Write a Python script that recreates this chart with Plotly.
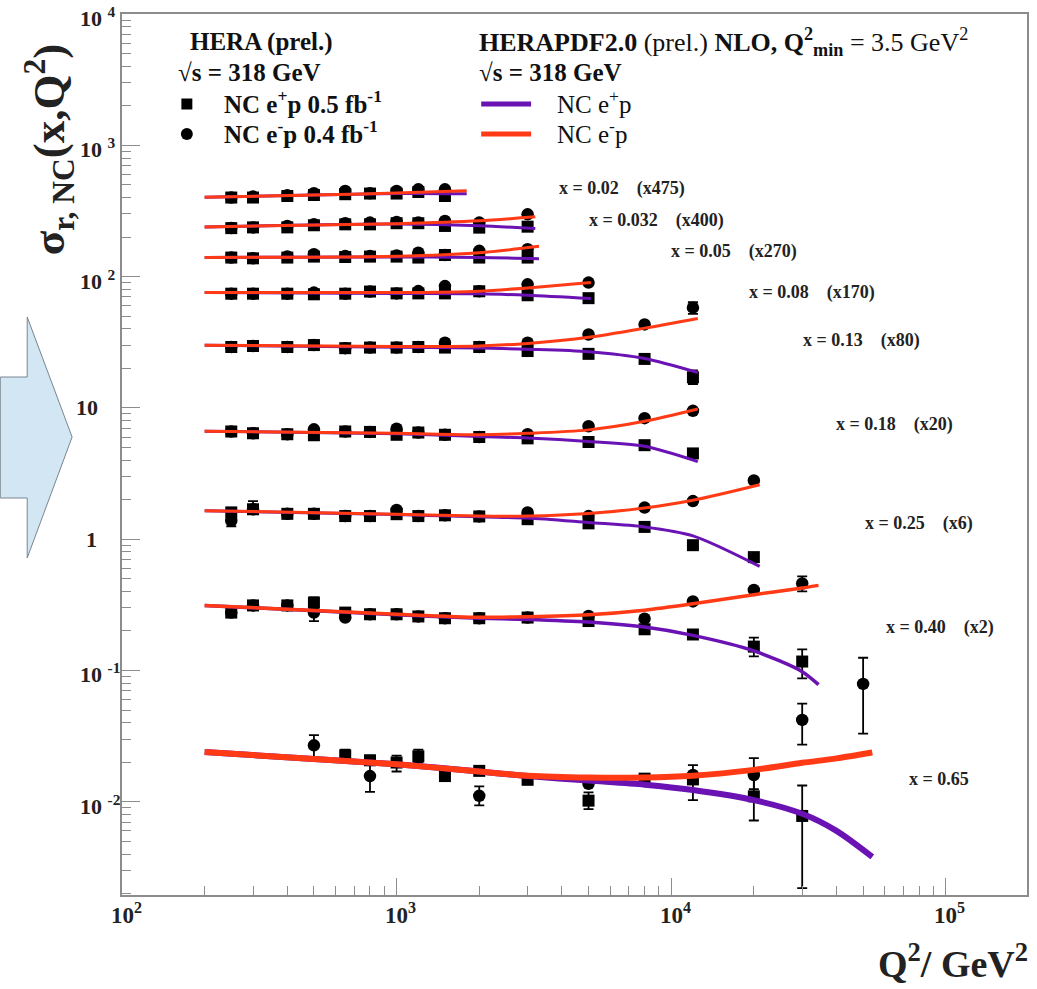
import plotly.graph_objects as go

N = None
# ---------------- data (sigma_r scaled by the factor of each x bin) ----------------
Q2 = [250, 300, 400, 500, 650, 800, 1000, 1200, 1500, 2000, 3000, 5000, 8000, 12000, 20000, 30000, 50000]

bins = ["0.02", "0.032", "0.05", "0.08", "0.13", "0.18", "0.25", "0.40", "0.65"]
scales = ["475", "400", "270", "170", "80", "20", "6", "2", ""]

# e+p (squares) and e-p (circles), aligned with Q2
ep_002 = [400, 400, 411, 418, 424, 429, 429, 441, 411, N, N, N, N, N, N, N, N]
em_002 = [400, 407, 416, 431, 449, 431, 449, 462, 462, N, N, N, N, N, N, N, N]
ep_0032 = [234, 237, 237, 246, 250, 250, 255, 255, 243, 236, 240, N, N, N, N, N, N]
em_0032 = [234, 237, 243, 250, 255, 258, 261, 258, 265, 258, 298, N, N, N, N, N, N]
ep_005 = [139.6, 137.8, 139.6, 142, 141, 142, 142, 139.6, 146, 139.6, 139.6, N, N, N, N, N, N]
em_005 = [139.6, 137.8, 142, 148, 143.6, 143.6, 145, 152, 146, 157, 161.5, N, N, N, N, N, N]
ep_008 = [74.1, 74.1, 74.1, 73.3, 74.1, 76.9, 74.5, 74.5, 74.5, 77.3, 72.1, 68.5, N, N, N, N, N]
em_008 = [74.1, 74.1, 74.1, 75.5, 74.1, 76.9, 74.5, 77.6, 84.7, 77.3, 87.3, 90, N, N, N, N, N]
ep_013 = [29.1, 29.6, 29.1, 30.1, 28.5, 28.8, 28.8, 29.1, 28.8, 29.1, 27.1, 25.8, 23.6, 17.1, N, N, N]
em_013 = [29.1, 29.6, 29.1, 30.1, 28.5, 28.8, 28.8, 29.1, 31.4, 29.1, 31.4, 36.2, 43.2, 58, N, N, N]
ep_018 = [6.61, 6.41, 6.30, 6.19, 6.61, 6.56, 6.24, 6.49, 6.24, 6.0, 5.86, 5.5, 5.2, 4.5, N, N, N]
em_018 = [6.61, 6.41, 6.30, 6.87, 6.61, 6.56, 6.95, 6.49, 6.24, 6.0, 6.30, 7.25, 8.35, 9.5, N, N, N]
ep_025 = [1.60, 1.69, 1.56, 1.56, 1.50, 1.50, 1.55, 1.50, 1.52, 1.49, 1.42, 1.32, 1.24, 0.90, 0.73, N, N]
em_025 = [1.38, 1.69, 1.56, 1.56, 1.50, 1.50, 1.67, 1.50, 1.52, 1.49, 1.60, 1.50, 1.74, 1.95, 2.8, N, N]
ep_040 = [0.276, 0.313, 0.313, 0.329, 0.276, 0.268, 0.268, 0.258, 0.250, 0.250, 0.253, 0.238, 0.206, 0.188, 0.152, 0.117, N]
em_040 = [0.276, 0.313, 0.313, 0.276, 0.253, 0.268, 0.268, 0.258, 0.250, 0.250, 0.253, 0.260, 0.248, 0.336, 0.41, 0.46, N]
ep_065 = [N, N, N, N, 0.0226, 0.0207, 0.0199, 0.0222, 0.0157, 0.0172, 0.0147, 0.0102, 0.0150, 0.0148, 0.0110, 0.0078, N]
em_065 = [N, N, N, 0.0269, N, 0.0157, N, N, N, 0.0111, N, 0.0137, N, 0.0160, 0.0160, 0.0420, 0.0790]

# error bar ends (low / high), aligned with Q2
ep_013_lo = [N] * 13 + [15.2, N, N, N]
ep_013_hi = [N] * 13 + [19.3, N, N, N]
em_013_lo = [N] * 13 + [52, N, N, N]
em_013_hi = [N] * 13 + [64, N, N, N]
ep_025_lo = [N, 1.60, N, N, N, N, N, N, N, N, N, N, N, N, N, N, N]
ep_025_hi = [N, 1.95, N, N, N, N, N, N, N, N, N, N, N, N, N, N, N]
em_025_lo = [1.25, N, N, N, N, N, N, N, N, N, N, N, N, N, N, N, N]
em_025_hi = [1.50, N, N, N, N, N, N, N, N, N, N, N, N, N, N, N, N]
ep_040_lo = [N, N, N, 0.238, N, N, N, N, N, N, N, N, N, N, 0.128, 0.087, N]
ep_040_hi = [N, N, N, 0.360, N, N, N, N, N, N, N, N, N, N, 0.178, 0.145, N]
em_040_lo = [N] * 15 + [0.40, N]
em_040_hi = [N] * 15 + [0.52, N]
ep_065_lo = [N, N, N, N, 0.0201, 0.0190, 0.0170, 0.0200, N, N, N, 0.0088, N, 0.0103, 0.0072, 0.0022, N]
ep_065_hi = [N, N, N, N, 0.0250, 0.0225, 0.0225, 0.0250, N, N, N, 0.0118, N, 0.0190, 0.0160, 0.0133, N]
em_065_lo = [N, N, N, 0.0211, N, 0.0119, N, N, N, 0.0094, N, N, N, N, 0.0125, 0.0272, 0.0330]
em_065_hi = [N, N, N, 0.0322, N, 0.0203, N, N, N, 0.0131, N, N, N, N, 0.0215, 0.0560, 0.1250]

# HERAPDF2.0 NLO curves: Q2 nodes, e-p (red) and e+p (purple)
cq_002 = [200, 500, 1000, 1800]
cr_002 = [402, 418, 433, 450]
cp_002 = [402, 418, 430, 428]
cq_0032 = [200, 1000, 2000, 3200]
cr_0032 = [239, 253, 266, 285]
cp_0032 = [239, 251, 244, 232]
cq_005 = [200, 1000, 2000, 3300]
cr_005 = [140, 143, 152, 170]
cp_005 = [140, 141, 140, 137]
cq_008 = [200, 1000, 2000, 3000, 5100]
cr_008 = [75.5, 75.5, 77.5, 82, 90]
cp_008 = [75.5, 74.5, 74, 72, 68]
cq_013 = [200, 1000, 2000, 3000, 5000, 8000, 12500]
cr_013 = [30, 29.3, 29.6, 31, 34.5, 40.5, 48]
cp_013 = [30, 29, 28.6, 28, 26.8, 23.8, 18.6]
cq_018 = [200, 1000, 2000, 3000, 5000, 8000, 12500]
cr_018 = [6.65, 6.4, 6.25, 6.4, 6.8, 7.9, 9.8]
cp_018 = [6.65, 6.35, 6.05, 5.9, 5.55, 5.1, 3.9]
cq_025 = [200, 1000, 2000, 3000, 5000, 8000, 12000, 21000]
cr_025 = [1.65, 1.55, 1.50, 1.50, 1.57, 1.73, 1.98, 2.6]
cp_025 = [1.65, 1.54, 1.48, 1.45, 1.34, 1.24, 1.06, 0.62]
cq_040 = [200, 1000, 2000, 3000, 5000, 8000, 12000, 20000, 30000, 34400]
cr_040 = [0.313, 0.268, 0.254, 0.257, 0.266, 0.288, 0.322, 0.378, 0.425, 0.445]
cp_040 = [0.313, 0.266, 0.250, 0.245, 0.234, 0.214, 0.185, 0.141, 0.098, 0.078]
cq_065 = [200, 500, 1000, 2000, 3000, 5000, 8000, 12000, 20000, 30000, 40000, 54000]
cr_065 = [0.0239, 0.0212, 0.0193, 0.0170, 0.0158, 0.0153, 0.0153, 0.0158, 0.0175, 0.0198, 0.0214, 0.0237]
cp_065 = [0.0239, 0.0212, 0.0193, 0.0170, 0.0157, 0.0145, 0.0135, 0.0123, 0.0103, 0.0081, 0.0060, 0.0038]

x_ticks = [2, 3, 4, 5]
y_ticks = [4, 3, 2, 1, 0, -1, -2]

# ---------------- layout helpers ----------------
W, H = 1037, 989
L, R, T, B = 122, 8, 14, 94
PW, PH = W - L - R, H - T - B
FONT = "Liberation Serif"
RED = "#ff3a14"
PURPLE = "#6a12b4"


def px(x):
    return (x - L) / PW


def py(y):
    return (H - B - y) / PH


rows = [
    (ep_002, em_002, None, None, None, None, cq_002, cr_002, cp_002, 3),
    (ep_0032, em_0032, None, None, None, None, cq_0032, cr_0032, cp_0032, 3),
    (ep_005, em_005, None, None, None, None, cq_005, cr_005, cp_005, 3),
    (ep_008, em_008, None, None, None, None, cq_008, cr_008, cp_008, 3),
    (ep_013, em_013, ep_013_lo, ep_013_hi, em_013_lo, em_013_hi, cq_013, cr_013, cp_013, 3),
    (ep_018, em_018, None, None, None, None, cq_018, cr_018, cp_018, 3),
    (ep_025, em_025, ep_025_lo, ep_025_hi, em_025_lo, em_025_hi, cq_025, cr_025, cp_025, 3),
    (ep_040, em_040, ep_040_lo, ep_040_hi, em_040_lo, em_040_hi, cq_040, cr_040, cp_040, 3.5),
    (ep_065, em_065, ep_065_lo, ep_065_hi, em_065_lo, em_065_hi, cq_065, cr_065, cp_065, 6),
]

fig = go.Figure()


def add_points(vals, lo, hi, symbol, size):
    xs, ys, up, dn = [], [], [], []
    for i, v in enumerate(vals):
        if v is None:
            continue
        xs.append(Q2[i])
        ys.append(v)
        h = hi[i] if (hi is not None and hi[i] is not None) else v
        l = lo[i] if (lo is not None and lo[i] is not None) else v
        up.append(h - v)
        dn.append(v - l)
    fig.add_trace(go.Scatter(
        x=xs, y=ys, mode="markers",
        marker=dict(symbol=symbol, size=size, color="black", line=dict(width=0)),
        error_y=dict(type="data", symmetric=False, array=up, arrayminus=dn,
                     color="black", thickness=1.8, width=5),
        showlegend=False, hoverinfo="skip"))


for ep, em, eplo, ephi, emlo, emhi, cq, cr, cp, lw in rows:
    add_points(ep, eplo, ephi, "square", 12)
    add_points(em, emlo, emhi, "circle", 12.5)

for ep, em, eplo, ephi, emlo, emhi, cq, cr, cp, lw in rows:
    fig.add_trace(go.Scatter(x=cq, y=cp, mode="lines",
                             line=dict(color=PURPLE, width=lw, shape="spline", smoothing=0.8),
                             showlegend=False, hoverinfo="skip"))
    fig.add_trace(go.Scatter(x=cq, y=cr, mode="lines",
                             line=dict(color=RED, width=lw, shape="spline", smoothing=0.8),
                             showlegend=False, hoverinfo="skip"))

annotations = []
# bin labels
label_pos = [(558, 189), (588, 220), (670, 251), (748, 293), (803, 340),
             (836, 424), (865, 523), (886, 628), (909, 779)]
for b, s, (lx, ly) in zip(bins, scales, label_pos):
    txt = "<b>x = " + b + "</b>"
    if s:
        txt += "\u00a0\u00a0\u00a0\u00a0<b>(x" + s + ")</b>"
    annotations.append(dict(x=px(lx), y=py(ly), xref="paper", yref="paper", text=txt,
                            showarrow=False, xanchor="left", yanchor="middle",
                            font=dict(family=FONT, size=18, color="#222")))

# tick labels
for e in x_ticks:
    annotations.append(dict(x=e, y=py(913), xref="x", yref="paper",
                            text="<b>10<sup>%d</sup></b>" % e, showarrow=False,
                            xanchor="center", yanchor="middle", xshift=4,
                            font=dict(family=FONT, size=23, color="#222")))
for e in y_ticks:
    if e == 0:
        txt, xa, xx = "<b>1</b>", "right", 99
    elif e == 1:
        txt, xa, xx = "<b>10</b>", "right", 100
    else:
        txt, xa, xx = "<b>10\u00a0<sup>%d</sup></b>" % e, "left", 78
    annotations.append(dict(x=px(xx), y=e, xref="paper", yref="y", text=txt,
                            showarrow=False, xanchor=xa, yanchor="middle",
                            yshift=-3 if e not in (0, 1) else 0,
                            font=dict(family=FONT, size=22, color="#222")))

# axis titles
annotations.append(dict(x=px(1032), y=py(987), xref="paper", yref="paper",
                        text="<b>Q<sup>2</sup>/ GeV<sup>2</sup></b>", showarrow=False,
                        xanchor="right", yanchor="bottom",
                        font=dict(family=FONT, size=38, color="#222")))
annotations.append(dict(x=px(48), y=py(150), xref="paper", yref="paper",
                        text="<b>σ<sub>r, NC</sub>(x,Q<sup>2</sup>)</b>", showarrow=False,
                        textangle=-90, xanchor="center", yanchor="middle",
                        font=dict(family=FONT, size=45, color="#222")))

# legend texts
leg = [
    (188, 42, "<b>HERA (prel.)</b>", 25),
    (176, 72, "<b>√s = 318 GeV</b>", 25),
    (222, 102, "<b>NC e<sup>+</sup>p 0.5 fb<sup>-1</sup></b>", 25),
    (222, 132, "<b>NC e<sup>-</sup>p 0.4 fb<sup>-1</sup></b>", 25),
    (478, 42, "<b>HERAPDF2.0</b> (prel.) <b>NLO, Q<sup>2</sup><sub>min</sub></b> = 3.5 GeV<sup>2</sup>", 26),
    (478, 72, "<b>√s = 318 GeV</b>", 25),
    (556, 102, "NC e<sup>+</sup>p", 25),
    (556, 132, "NC e<sup>-</sup>p", 25),
]
for lx, ly, t, fs in leg:
    annotations.append(dict(x=px(lx), y=py(ly), xref="paper", yref="paper", text=t,
                            showarrow=False, xanchor="left", yanchor="middle",
                            font=dict(family=FONT, size=fs, color="#111")))

shapes = []
# legend symbols
shapes.append(dict(type="rect", xref="paper", yref="paper",
                   x0=px(181.5), x1=px(192.5), y0=py(109.5), y1=py(98.5),
                   fillcolor="black", line=dict(width=0)))
shapes.append(dict(type="circle", xref="paper", yref="paper",
                   x0=px(181), x1=px(193), y0=py(140), y1=py(128),
                   fillcolor="black", line=dict(width=0)))
shapes.append(dict(type="line", xref="paper", yref="paper",
                   x0=px(482), x1=px(532), y0=py(104), y1=py(104),
                   line=dict(color=PURPLE, width=5)))
shapes.append(dict(type="line", xref="paper", yref="paper",
                   x0=px(482), x1=px(532), y0=py(134), y1=py(134),
                   line=dict(color=RED, width=5)))
# decorative arrow on the left
arrow_pts = [(0, 377), (27, 377), (27, 317), (72, 437), (27, 558), (27, 498), (0, 498)]
path = "M " + " L ".join("%f,%f" % (px(a), py(b)) for a, b in arrow_pts) + " Z"
shapes.append(dict(type="path", xref="paper", yref="paper", path=path,
                   fillcolor="#d2e6f4", line=dict(color="#7a8590", width=1), layer="below"))

axis_common = dict(type="log", showgrid=False, zeroline=False, showline=True,
                   linecolor="#8c8c8c", linewidth=1.5, mirror=True,
                   ticks="inside", tickcolor="#8c8c8c", tickwidth=1,
                   dtick=1, showticklabels=False)

fig.update_layout(
    width=W, height=H,
    margin=dict(l=L, r=R, t=T, b=B),
    paper_bgcolor="white", plot_bgcolor="white",
    showlegend=False,
    xaxis=dict(range=[2, 2 + PW / 275.2], ticklen=17,
               minor=dict(ticks="inside", ticklen=9, tickcolor="#8c8c8c", dtick="D1", showgrid=False),
               **axis_common),
    yaxis=dict(range=[-2.71, 4.0], ticklen=18,
               minor=dict(ticks="inside", ticklen=9, tickcolor="#8c8c8c", dtick="D1", showgrid=False),
               **axis_common),
    annotations=annotations,
    shapes=shapes,
    font=dict(family=FONT),
)

fig.write_html("out.html")
